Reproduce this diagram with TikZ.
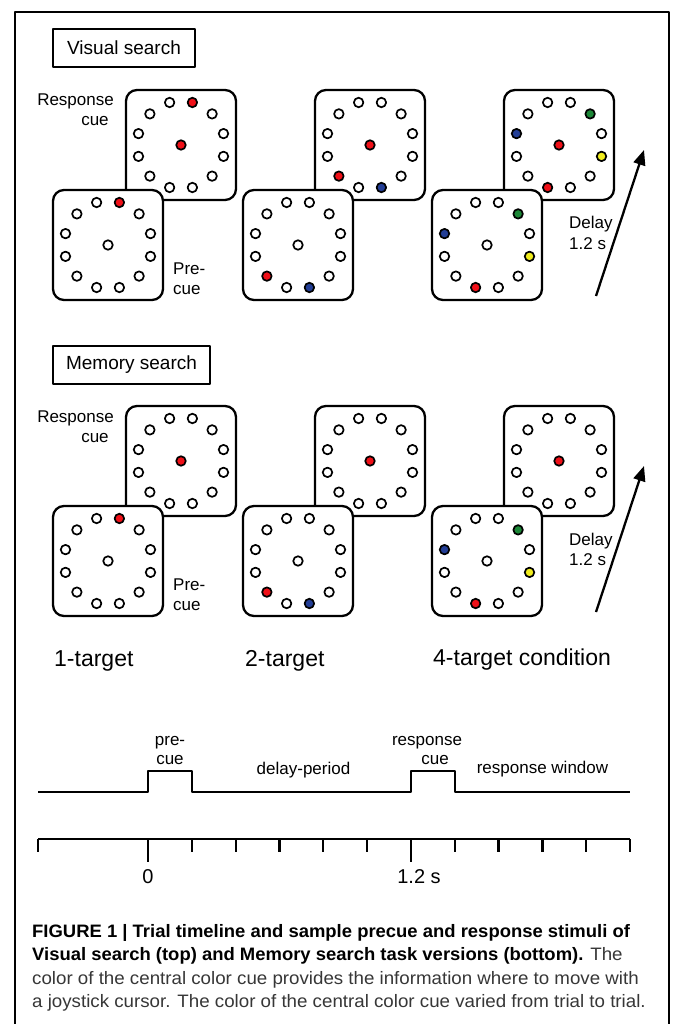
\documentclass[tikz,border=0pt]{standalone}
\usepackage{fontspec}
\setmainfont{Liberation Sans}
\newfontfamily\capfont[FakeStretch=1.04, BoldFeatures={FakeStretch=1.025}]{Liberation Sans}
\usetikzlibrary{calc,arrows.meta}
\definecolor{cred}{RGB}{240,16,24}
\definecolor{cblue}{RGB}{35,62,150}
\definecolor{cgreen}{RGB}{28,135,55}
\definecolor{cyellow}{RGB}{240,236,30}
\definecolor{captxt}{RGB}{55,55,55}
\tikzset{
  panel/.style={draw, line width=2.3pt, rounded corners=11pt, fill=white,
    minimum width=110pt, minimum height=110pt, inner sep=0pt},
  dot/.style={circle, draw, line width=1.7pt, minimum size=9.5pt, inner sep=0pt},
  lbl/.style={font=\fontsize{17}{20}\selectfont, inner sep=0pt},
  cond/.style={font=\fontsize{23}{26}\selectfont, inner sep=0pt},
  tbox/.style={draw, line width=2.3pt, font=\fontsize{19}{22}\selectfont,
    minimum height=38pt, inner sep=0pt},
  arr/.style={line width=2.3pt, -{Triangle[length=15pt,width=12pt]}},
  thick line/.style={line width=2.3pt},
  captxtstyle/.style={font=\capfont\fontsize{18}{22}\selectfont, inner sep=0pt, anchor=base west, text=captxt}
}
\newcommand\mkstim[5]{%
  \node[panel] (#1) at (#2,#3) {};
  \node[dot, fill=#4] (#1c) at (#1.center) {};
  \foreach \col [count=\i] in {#5} {
    \node[dot, fill=\col] (#1d\i) at ($(#1.center)+({15+30*(\i-1)}:44pt)$) {};
  }%
}
\begin{document}
\begin{tikzpicture}[x=1pt, y=-1pt, line join=round]
\useasboundingbox (0,0) rectangle (673,1024);
\fill[white] (0,0) rectangle (673,1024);
% frame
\coordinate (f1) at (15,1026);
\coordinate (f2) at (15,12);
\coordinate (f3) at (669,12);
\coordinate (f4) at (669,1026);
\draw[thick line] (f1) -- (f2) -- (f3) -- (f4);

% ===== Visual search =====
\node[tbox, minimum width=142pt] (vtitle) at (124,48) {Visual search};
\mkstim{vt1}{181}{145}{cred}{white,white,cred,white,white,white,white,white,white,white,white,white}
\mkstim{vb1}{108}{245}{white}{white,white,cred,white,white,white,white,white,white,white,white,white}
\mkstim{vt2}{370}{145}{cred}{white,white,white,white,white,white,white,cred,white,cblue,white,white}
\mkstim{vb2}{298}{245}{white}{white,white,white,white,white,white,white,cred,white,cblue,white,white}
\mkstim{vt3}{559}{145}{cred}{white,cgreen,white,white,white,cblue,white,white,cred,white,white,cyellow}
\mkstim{vb3}{487}{245}{white}{white,cgreen,white,white,white,cblue,white,white,cred,white,white,cyellow}
\node[lbl, anchor=base east] (vresp) at (114,106) {Response};
\node[lbl, anchor=base] (vrespcue) at (95,126) {cue};
\node[lbl, anchor=base west] (vpre) at (173,274) {Pre-};
\node[lbl, anchor=base west] (vprecue) at (173,294) {cue};
\node[lbl, anchor=base west] (vdelay) at (569,229) {Delay};
\node[lbl, anchor=base west] (vdelays) at (569,249) {1.2 s};
\coordinate (va0) at (596,296);
\coordinate (va1) at (644,150);
\draw[arr] (va0) -- (va1);

% ===== Memory search =====
\node[tbox, minimum width=157pt] (mtitle) at (131.5,365) {Memory search};
\mkstim{mt1}{181}{461}{cred}{white,white,white,white,white,white,white,white,white,white,white,white}
\mkstim{mb1}{108}{561}{white}{white,white,cred,white,white,white,white,white,white,white,white,white}
\mkstim{mt2}{370}{461}{cred}{white,white,white,white,white,white,white,white,white,white,white,white}
\mkstim{mb2}{298}{561}{white}{white,white,white,white,white,white,white,cred,white,cblue,white,white}
\mkstim{mt3}{559}{461}{cred}{white,white,white,white,white,white,white,white,white,white,white,white}
\mkstim{mb3}{487}{561}{white}{white,cgreen,white,white,white,cblue,white,white,cred,white,white,cyellow}
\node[lbl, anchor=base east] (mresp) at (114,422) {Response};
\node[lbl, anchor=base] (mrespcue) at (95,442) {cue};
\node[lbl, anchor=base west] (mpre) at (173,590) {Pre-};
\node[lbl, anchor=base west] (mprecue) at (173,610) {cue};
\node[lbl, anchor=base west] (mdelay) at (569,545) {Delay};
\node[lbl, anchor=base west] (mdelays) at (569,565) {1.2 s};
\coordinate (ma0) at (596,612);
\coordinate (ma1) at (644,466);
\draw[arr] (ma0) -- (ma1);

% condition labels
\node[cond, anchor=base west] (c1) at (54,666) {1-target};
\node[cond, anchor=base west] (c2) at (245,666) {2-target};
\node[cond, anchor=base west] (c4) at (433,665) {4-target condition};

% ===== timeline =====
\coordinate (s0) at (38,792);
\coordinate (s1) at (148,792);
\coordinate (s2) at (148,771);
\coordinate (s3) at (192,771);
\coordinate (s4) at (192,792);
\coordinate (s5) at (411,792);
\coordinate (s6) at (411,771);
\coordinate (s7) at (455,771);
\coordinate (s8) at (455,792);
\coordinate (s9) at (630,792);
\draw[thick line] (s0) -- (s1) -- (s2) -- (s3) -- (s4) -- (s5) -- (s6) -- (s7) -- (s8) -- (s9);
\node[lbl, anchor=base] (tpre) at (170,745) {pre-};
\node[lbl, anchor=base] (tprecue) at (170,764) {cue};
\node[lbl, anchor=base] (tdelay) at (303.5,774) {delay-period};
\node[lbl, anchor=base] (tresp) at (427,745) {response};
\node[lbl, anchor=base] (trespcue) at (435,764) {cue};
\node[lbl, anchor=base] (twin) at (542.5,773) {response window};

% axis
\coordinate (x0) at (38,839);
\coordinate (x1) at (630,839);
\draw[thick line] (x0) -- (x1);
\draw[thick line] (x0) -- ++(0,13);
\draw[thick line] (x1) -- ++(0,13);
\foreach \k in {1,2,3,4,5,7,8,9,10} {
  \draw[thick line] ($(148,839)+(\k*43.83,0)$) -- ++(0,13);
}
\coordinate (t0) at (148,839);
\coordinate (t12) at (411,839);
\draw[thick line] (t0) -- ++(0,23);
\draw[thick line] (t12) -- ++(0,23);
\node[font=\fontsize{20}{24}\selectfont, inner sep=0pt, anchor=base] (l0) at (148,883) {0};
\node[font=\fontsize{20}{24}\selectfont, inner sep=0pt, anchor=base] (l12) at (419,883) {1.2 s};

% caption
\node[captxtstyle, text=black] (cap1) at (32,937) {\bfseries FIGURE 1 | Trial timeline and sample precue and response stimuli of};
\node[captxtstyle] (cap2) at (32,960.5) {{\bfseries\color{black}Visual search (top) and Memory search task versions (bottom).} The};
\node[captxtstyle] (cap3) at (32,984) {color of the central color cue provides the information where to move with};
\node[captxtstyle] (cap4) at (32,1007.5) {a joystick cursor. The color of the central color cue varied from trial to trial.};
\end{tikzpicture}
\end{document}
